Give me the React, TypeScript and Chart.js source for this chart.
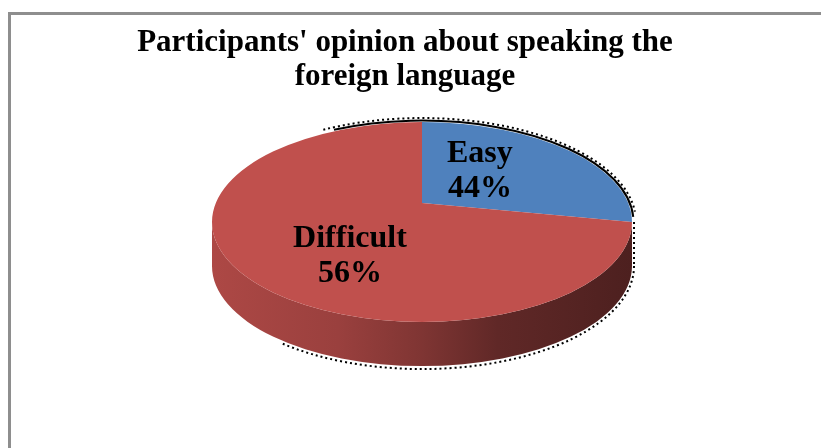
import React, { useEffect, useRef } from "react";
import { Chart, registerables } from "chart.js";

Chart.register(...registerables);

// ---- data ----
const categories = ["Easy", "Difficult"];
const sliceShares = [25, 75]; // slice sizes as drawn in the picture
const percentLabels = ["44%", "56%"]; // label texts as printed on the picture
const titleLines = ["Participants' opinion about speaking the", "foreign language"];

// ---- style ----
const sliceColors = ["#4f81bd", "#c0504d"];
const TILT = 0.476; // vertical squash of the top face
const DEPTH = 0.21; // wall height relative to horizontal radius
const APEX = 0.19; // perspective shift of the pie apex
const labelPlacement = [
  { f: 0.39, dy: -15 },
  { f: 0.485, dy: 8 },
];
const LABEL_FONT = "bold 32px 'Liberation Serif', 'Times New Roman', serif";

function hexToRgb(h: string) {
  const n = parseInt(h.slice(1), 16);
  return [(n >> 16) & 255, (n >> 8) & 255, n & 255];
}
function shade(h: string, k: number) {
  const [r, g, b] = hexToRgb(h);
  return `rgb(${Math.round(r * k)},${Math.round(g * k)},${Math.round(b * k)})`;
}

const pie3d = {
  id: "pie3d",
  beforeDatasetsDraw(chart: any) {
    const ctx: CanvasRenderingContext2D = chart.ctx;
    const meta = chart.getDatasetMeta(0);
    const area = chart.chartArea;
    const cx = (area.left + area.right) / 2;
    const cy = (area.top + area.bottom) / 2;
    const rx = (area.right - area.left) / 2;
    const ry = rx * TILT;
    const depth = rx * DEPTH;
    const apexY = cy - ry * APEX;

    ctx.save();
    // walls (front half only)
    meta.data.forEach((el: any, i: number) => {
      const s = el.startAngle;
      const e = el.endAngle;
      const color = sliceColors[i];
      const ranges = [
        [0, Math.PI],
        [2 * Math.PI, 3 * Math.PI],
        [-2 * Math.PI, -Math.PI],
      ];
      for (const [lo, hi] of ranges) {
        const a1 = Math.max(s, lo);
        const a2 = Math.min(e, hi);
        if (a2 <= a1) continue;
        const g = ctx.createLinearGradient(cx - rx, 0, cx + rx, 0);
        g.addColorStop(0, shade(color, 0.9));
        g.addColorStop(0.3, shade(color, 0.8));
        g.addColorStop(0.5, shade(color, 0.66));
        g.addColorStop(0.68, shade(color, 0.5));
        g.addColorStop(1, shade(color, 0.4));
        ctx.beginPath();
        ctx.ellipse(cx, cy, rx, ry, 0, a1, a2, false);
        ctx.ellipse(cx, cy + depth, rx, ry, 0, a2, a1, true);
        ctx.closePath();
        ctx.fillStyle = g;
        ctx.fill();
      }
    });

    // top faces
    meta.data.forEach((el: any, i: number) => {
      ctx.beginPath();
      ctx.moveTo(cx, apexY);
      ctx.ellipse(cx, cy, rx, ry, 0, el.startAngle, el.endAngle, false);
      ctx.closePath();
      ctx.fillStyle = sliceColors[i];
      ctx.fill();
    });

    // dark halo along the back/right edge
    ctx.strokeStyle = "#000";
    ctx.lineWidth = 2;
    ctx.beginPath();
    ctx.ellipse(cx, cy, rx + 1.5, ry + 1.5, 0, -2.0, -0.05, false);
    ctx.stroke();
    ctx.setLineDash([2, 3]);
    ctx.lineWidth = 2;
    ctx.beginPath();
    ctx.ellipse(cx, cy, rx + 4, ry + 4, 0, -2.05, -0.1, false);
    ctx.stroke();
    ctx.beginPath();
    ctx.moveTo(cx + rx + 2, cy);
    ctx.lineTo(cx + rx + 2, cy + depth);
    ctx.stroke();
    ctx.beginPath();
    ctx.ellipse(cx, cy + depth, rx + 2, ry + 3, 0, 0, 2.3, false);
    ctx.stroke();
    ctx.setLineDash([]);

    // labels
    ctx.font = LABEL_FONT;
    ctx.fillStyle = "#000";
    ctx.textAlign = "center";
    ctx.textBaseline = "alphabetic";
    meta.data.forEach((el: any, i: number) => {
      const m = (el.startAngle + el.endAngle) / 2;
      const p = labelPlacement[i];
      const x = cx + rx * p.f * Math.cos(m);
      const y = cy + ry * p.f * Math.sin(m) + p.dy;
      ctx.fillText(categories[i], x, y - 17.5);
      ctx.fillText(percentLabels[i], x, y + 17.5);
    });
    ctx.restore();
    return false;
  },
};

export default function App() {
  const ref = useRef<HTMLCanvasElement>(null);
  useEffect(() => {
    if (!ref.current) return;
    const chart = new Chart(ref.current, {
      type: "pie",
      data: {
        labels: categories,
        datasets: [{ data: sliceShares, backgroundColor: sliceColors, borderWidth: 0 }],
      },
      options: {
        responsive: false,
        animation: false,
        devicePixelRatio: 1,
        layout: { padding: { left: 212, right: 189, top: 100, bottom: 104 } },
        plugins: { legend: { display: false }, tooltip: { enabled: false }, title: { display: false } },
      },
      plugins: [pie3d],
    } as any);
    return () => chart.destroy();
  }, []);

  return (
    <div style={{ position: "fixed", left: 0, top: 0, width: 821, height: 448, background: "#fff", overflow: "hidden" }}>
      <div
        style={{
          position: "absolute",
          left: 8,
          top: 12,
          width: 840,
          height: 470,
          borderLeft: "3px solid #8e8e8e",
          borderTop: "3px solid #8e8e8e",
        }}
      />
      <canvas ref={ref} width={821} height={448} style={{ position: "absolute", left: 0, top: 0 }} />
      <div
        style={{
          position: "absolute",
          left: 0,
          top: 24,
          width: 810,
          textAlign: "center",
          fontFamily: "'Liberation Serif', 'Times New Roman', serif",
          fontWeight: "bold",
          fontSize: 31,
          lineHeight: "34px",
          color: "#000",
        }}
      >
        {titleLines.map((t, i) => (
          <div key={i}>{t}</div>
        ))}
      </div>
    </div>
  );
}
